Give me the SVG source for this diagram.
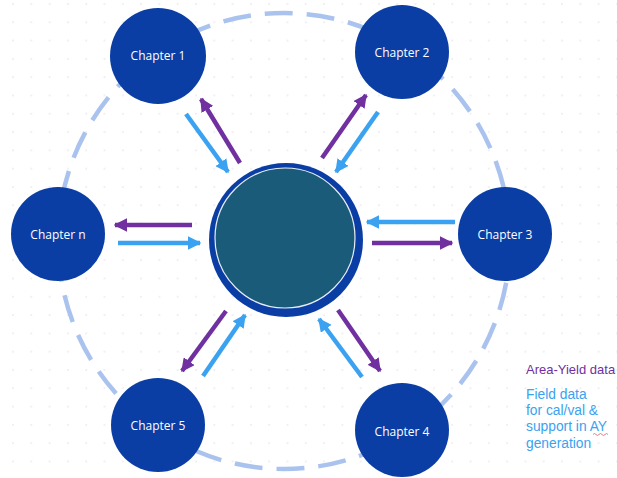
<svg xmlns="http://www.w3.org/2000/svg" width="617" height="478" viewBox="0 0 617 478">
<defs>
<pattern id="grid" x="12" y="3" width="18.3" height="18.3" patternUnits="userSpaceOnUse">
<circle cx="1" cy="1" r="0.8" fill="#dcdce6"/>
</pattern>
<marker id="hb" viewBox="0 0 10 10" refX="9" refY="5" markerWidth="3" markerHeight="3" orient="auto" markerUnits="strokeWidth">
<path d="M0,0 L10,5 L0,10 Z" fill="#3aa2f0"/>
</marker>
<marker id="hp" viewBox="0 0 10 10" refX="9" refY="5" markerWidth="3" markerHeight="3" orient="auto" markerUnits="strokeWidth">
<path d="M0,0 L10,5 L0,10 Z" fill="#7030a0"/>
</marker>
</defs>
<style>
.sat{fill:#0a3ea5}
.lbl{font-family:"Open Sans","Liberation Sans",sans-serif;font-size:12px;fill:#ffffff;text-anchor:middle}
.blue{stroke:#3aa2f0;stroke-width:4.5;fill:none;marker-end:url(#hb)}
.purp{stroke:#7030a0;stroke-width:4.5;fill:none;marker-end:url(#hp)}
.leg{font-family:"Liberation Sans",Arial,sans-serif;font-size:13.8px}
</style>
<rect width="617" height="478" fill="#ffffff"/>
<rect width="617" height="478" fill="url(#grid)"/>
<ellipse id="ring" cx="284" cy="241" rx="226" ry="228" fill="none" stroke="#aac3ee" stroke-width="4.5" stroke-dasharray="28 14"/>
<g id="connectors">
<line class="blue" x1="186" y1="114" x2="228" y2="172"/>
<line class="purp" x1="240" y1="163" x2="201" y2="99"/>
<line class="purp" x1="322" y1="158" x2="366" y2="95"/>
<line class="blue" x1="378" y1="112" x2="336" y2="172"/>
<line class="blue" x1="455" y1="222" x2="367" y2="222"/>
<line class="purp" x1="372" y1="243" x2="452" y2="243"/>
<line class="purp" x1="192" y1="225" x2="115" y2="225"/>
<line class="blue" x1="118" y1="243" x2="200" y2="243"/>
<line class="purp" x1="226" y1="311" x2="182" y2="371"/>
<line class="blue" x1="203" y1="376" x2="245" y2="315"/>
<line class="blue" x1="362" y1="377" x2="319" y2="319"/>
<line class="purp" x1="338" y1="310" x2="380" y2="371"/>
</g>
<g id="center">
<circle cx="286" cy="240" r="77" fill="#0a3ea5"/>
<circle cx="285" cy="238" r="70" fill="#1a5b79" stroke="#e8eef5" stroke-width="1.2"/>
</g>
<g id="ch1"><circle class="sat" cx="158" cy="56" r="48"/><text class="lbl" x="158" y="60">Chapter 1</text></g>
<g id="ch2"><circle class="sat" cx="402" cy="52" r="47"/><text class="lbl" x="402" y="57">Chapter 2</text></g>
<g id="ch3"><circle class="sat" cx="505" cy="234" r="47"/><text class="lbl" x="505" y="239">Chapter 3</text></g>
<g id="ch4"><circle class="sat" cx="402" cy="430" r="47"/><text class="lbl" x="402" y="436">Chapter 4</text></g>
<g id="ch5"><circle class="sat" cx="158" cy="425" r="47"/><text class="lbl" x="158" y="430">Chapter 5</text></g>
<g id="chn"><circle class="sat" cx="58" cy="234" r="47"/><text class="lbl" x="58" y="239">Chapter n</text></g>
<g id="legend">
<text class="leg" x="526" y="374" fill="#7030a0" style="font-size:13px">Area-Yield data</text>
<text class="leg" fill="#3aa2f0"><tspan x="526" y="399">Field data</tspan><tspan x="526" y="415.2">for cal/val &amp;</tspan><tspan x="526" y="431.4">support in AY</tspan><tspan x="526" y="447.6">generation</tspan></text>
<path d="M593,434.5 q1.5,-2 3,0 t3,0 t3,0 t3,0 t3,0" fill="none" stroke="#e06060" stroke-width="0.8"/>
</g>
</svg>
